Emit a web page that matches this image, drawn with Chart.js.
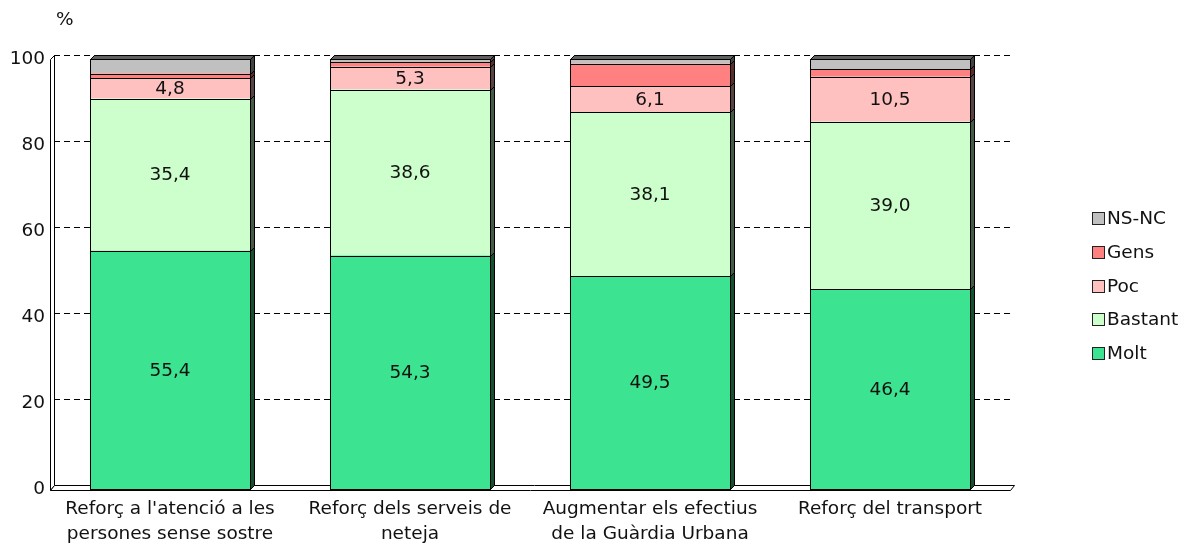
<!DOCTYPE html>
<html>
<head>
<meta charset="utf-8">
<script src="https://cdn.jsdelivr.net/npm/chart.js@4/dist/chart.umd.min.js"></script>
<style>
  html, body { margin: 0; padding: 0; background: #fff; }
  #wrap { width: 1186px; height: 547px; position: relative; }
</style>
</head>
<body>
<div id="wrap"><canvas id="chart" width="1186" height="547"></canvas></div>
<script>
// categories (two-line labels)
const categories = [
  ['Reforç a l\'atenció a les', 'persones sense sostre'],
  ['Reforç dels serveis de', 'neteja'],
  ['Augmentar els efectius', 'de la Guàrdia Urbana'],
  ['Reforç del transport']
];

// series values (%)
const molt    = [55.4, 54.3, 49.5, 46.4];
const bastant = [35.4, 38.6, 38.1, 39.0];
const poc     = [4.8, 5.3, 6.1, 10.5];
const gens    = [1.0, 1.1, 5.2, 1.7];
const nsnc    = [3.4, 0.7, 1.1, 2.4];

const yTicks = [0, 20, 40, 60, 80, 100];

const FONT = 'DejaVu Sans, Verdana, sans-serif';
const FS = 18.5;
const DEPTH = 4;

// shade a hex colour
function shade(hex, f) {
  const n = parseInt(hex.slice(1), 16);
  const r = Math.round(((n >> 16) & 255) * f);
  const g = Math.round(((n >> 8) & 255) * f);
  const b = Math.round((n & 255) * f);
  return `rgb(${r},${g},${b})`;
}

// 3D walls, floor, dashed grid, bar sides, labels and legend
const backdrop = {
  id: 'backdrop',
  beforeDatasetsDraw(chart) {
    const { ctx, chartArea: a, scales: { y } } = chart;
    ctx.save();
    ctx.strokeStyle = '#000';
    ctx.lineWidth = 1;
    // dashed grid on back wall
    ctx.setLineDash([6, 4]);
    yTicks.forEach(v => {
      if (v === 0) return;
      const py = Math.round(y.getPixelForValue(v)) + 0.5;
      ctx.beginPath();
      ctx.moveTo(a.left + DEPTH, py - DEPTH);
      ctx.lineTo(a.right + DEPTH, py - DEPTH);
      ctx.stroke();
    });
    ctx.setLineDash([]);
    // left wall
    ctx.fillStyle = '#fff';
    ctx.beginPath();
    ctx.moveTo(a.left + 0.5, a.bottom + 1.5);
    ctx.lineTo(a.left + 0.5, a.top + 0.5);
    ctx.lineTo(a.left + DEPTH + 0.5, a.top - DEPTH + 0.5);
    ctx.lineTo(a.left + DEPTH + 0.5, a.bottom - DEPTH + 0.5);
    ctx.closePath();
    ctx.fill();
    ctx.stroke();
    // floor
    ctx.beginPath();
    ctx.moveTo(a.left + 0.5, a.bottom + 1.5);
    ctx.lineTo(a.right + 0.5, a.bottom + 1.5);
    ctx.lineTo(a.right + DEPTH + 0.5, a.bottom - DEPTH + 0.5);
    ctx.lineTo(a.left + DEPTH + 0.5, a.bottom - DEPTH + 0.5);
    ctx.closePath();
    ctx.fill();
    ctx.stroke();
    ctx.restore();
  },
  afterDatasetsDraw(chart) {
    const { ctx } = chart;
    const n = chart.data.datasets.length;
    ctx.save();
    ctx.lineWidth = 1;
    ctx.strokeStyle = '#000';
    for (let d = 0; d < n; d++) {
      const meta = chart.getDatasetMeta(d);
      const col = chart.data.datasets[d].backgroundColor;
      meta.data.forEach(bar => {
        const { x, y: top, base, width } = bar.getProps(['x', 'y', 'base', 'width'], true);
        const l = Math.round(x - width / 2) + 0.5;
        const r = Math.round(x + width / 2) + 0.5;
        const t = Math.round(top) + 0.5, b = Math.round(base) + 0.5;
        // front outline
        ctx.strokeRect(l, t, r - l, b - t);
        // right side face
        ctx.fillStyle = shade(col, 0.35);
        ctx.beginPath();
        ctx.moveTo(r, b);
        ctx.lineTo(r, t);
        ctx.lineTo(r + DEPTH, t - DEPTH);
        ctx.lineTo(r + DEPTH, b - DEPTH);
        ctx.closePath();
        ctx.fill();
        ctx.stroke();
        // top face for the highest segment
        if (d === n - 1) {
          ctx.fillStyle = shade(col, 0.5);
          ctx.beginPath();
          ctx.moveTo(l, t);
          ctx.lineTo(r, t);
          ctx.lineTo(r + DEPTH, t - DEPTH);
          ctx.lineTo(l + DEPTH, t - DEPTH);
          ctx.closePath();
          ctx.fill();
          ctx.stroke();
        }
      });
    }
    // value labels for Molt, Bastant, Poc
    ctx.fillStyle = '#111';
    ctx.font = FS + 'px ' + FONT;
    ctx.textAlign = 'center';
    ctx.textBaseline = 'middle';
    [0, 1, 2].forEach(d => {
      const meta = chart.getDatasetMeta(d);
      meta.data.forEach((bar, i) => {
        const { x, y: top, base } = bar.getProps(['x', 'y', 'base'], true);
        const v = chart.data.datasets[d].data[i];
        ctx.fillText(v.toFixed(1).replace('.', ','), x, (top + base) / 2 + 1);
      });
    });
    ctx.restore();
  },
  afterDraw(chart) {
    const { ctx } = chart;
    ctx.save();
    ctx.font = FS + 'px ' + FONT;
    ctx.fillStyle = '#111';
    ctx.textBaseline = 'middle';
    ctx.textAlign = 'left';
    ctx.fillText('%', 56, 20);
    // legend, top item is last dataset
    const ds = chart.data.datasets;
    const lx = 1092, ly0 = 218, step = 33.8;
    for (let k = 0; k < ds.length; k++) {
      const d = ds[ds.length - 1 - k];
      const yy = Math.round(ly0 + k * step);
      ctx.fillStyle = d.backgroundColor;
      ctx.fillRect(lx + 0.5, yy - 5.5, 12, 12);
      ctx.strokeStyle = '#222';
      ctx.lineWidth = 1;
      ctx.strokeRect(lx + 0.5, yy - 5.5, 12, 12);
      ctx.fillStyle = '#111';
      ctx.fillText(d.label, lx + 15, yy + 1);
    }
    ctx.restore();
  }
};

const mk = (label, data, color) => ({
  label, data,
  backgroundColor: color,
  borderWidth: 0,
  barPercentage: 0.667,
  categoryPercentage: 1
});

new Chart(document.getElementById('chart'), {
  type: 'bar',
  data: {
    labels: categories,
    datasets: [
      mk('Molt', molt, '#3CE491'),
      mk('Bastant', bastant, '#CCFFCC'),
      mk('Poc', poc, '#FFC0C0'),
      mk('Gens', gens, '#FF8080'),
      mk('NS-NC', nsnc, '#C0C0C0')
    ]
  },
  options: {
    responsive: false,
    animation: false,
    layout: { padding: { top: 59, right: 176, left: 0, bottom: 0 } },
    plugins: {
      legend: { display: false },
      tooltip: { enabled: false }
    },
    scales: {
      x: {
        stacked: true,
        grid: { display: false, drawTicks: false },
        border: { display: false },
        ticks: {
          color: '#111',
          font: { family: FONT, size: FS, lineHeight: 1.35 },
          padding: 8,
          maxRotation: 0,
          autoSkip: false
        },
        afterFit: s => { s.height = 58; }
      },
      y: {
        stacked: true,
        min: 0,
        max: 100,
        afterBuildTicks: s => { s.ticks = yTicks.map(v => ({ value: v })); },
        grid: { display: false, drawTicks: false },
        border: { display: false },
        ticks: {
          color: '#111',
          font: { family: FONT, size: FS },
          padding: 5
        },
        afterFit: s => { s.width = 50; }
      }
    }
  },
  plugins: [backdrop]
});
</script>
</body>
</html>
